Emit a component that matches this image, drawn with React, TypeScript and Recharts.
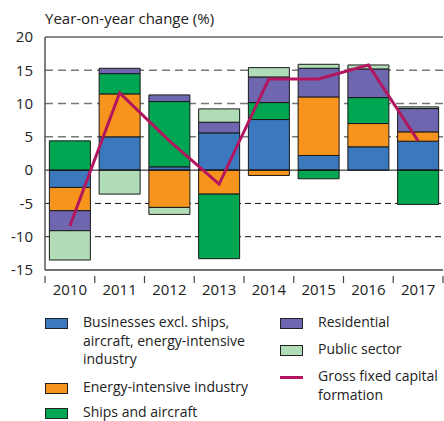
import React from "react";
import {
  ComposedChart,
  Bar,
  Line,
  XAxis,
  YAxis,
  CartesianGrid,
  ReferenceLine,
} from "recharts";

const years = ["2010", "2011", "2012", "2013", "2014", "2015", "2016", "2017"];
const businesses = [-2.6, 5.0, 0.5, 5.6, 7.6, 2.2, 3.5, 4.35];
const energy = [-3.5, 6.45, -5.6, -3.6, -0.8, 8.8, 3.5, 1.4];
const ships = [4.4, 3.05, 9.8, -9.7, 2.55, -1.3, 3.9, -5.15];
const residential = [-3.0, 0.8, 1.0, 1.6, 3.85, 4.3, 4.3, 3.5];
const publicSector = [-4.4, -3.6, -1.05, 2.0, 1.4, 0.6, 0.6, 0.25];
const gfcf = [-8.4, 11.6, 4.4, -2.1, 13.7, 13.7, 15.8, 4.4];
const yTicks = [-15, -10, -5, 0, 5, 10, 15, 20];

const COLORS = {
  businesses: "#3b78be",
  energy: "#f7941e",
  ships: "#00a651",
  residential: "#6e67af",
  publicSector: "#b1dcb8",
  gfcf: "#b3165f",
};

const data = years.map((y, i) => ({
  year: y,
  businesses: businesses[i],
  energy: energy[i],
  ships: ships[i],
  residential: residential[i],
  publicSector: publicSector[i],
  gfcf: gfcf[i],
}));

const FONT = "'Open Sans', sans-serif";

const YearTick = (props: any) => {
  const { x, y, payload, index } = props;
  const half = payload && payload.offset ? payload.offset : 0;
  const last = index === years.length - 1;
  const ay = y - 8;
  return (
    <g>
      <line x1={x - half} x2={x - half} y1={ay} y2={ay + 7} stroke="#444" strokeWidth={1.2} />
      {last && (
        <line x1={x + half} x2={x + half} y1={ay} y2={ay + 7} stroke="#444" strokeWidth={1.2} />
      )}
      <text x={x} y={y} dy={11} textAnchor="middle" fill="#222" fontSize={15} fontFamily={FONT}>
        {payload.value}
      </text>
    </g>
  );
};

const Swatch = ({ color }: { color: string }) => (
  <div
    style={{
      position: "absolute",
      left: 0,
      top: -5,
      width: 21,
      height: 9,
      background: color,
      border: "1px solid #222",
    }}
  />
);

const legendItems = [
  { x: 45, y: 323, text: ["Businesses excl. ships,", "aircraft, energy-intensive", "industry"], color: COLORS.businesses },
  { x: 45, y: 388, text: ["Energy-intensive industry"], color: COLORS.energy },
  { x: 45, y: 413, text: ["Ships and aircraft"], color: COLORS.ships },
  { x: 280, y: 323, text: ["Residential"], color: COLORS.residential },
  { x: 280, y: 350, text: ["Public sector"], color: COLORS.publicSector },
  { x: 280, y: 377, text: ["Gross fixed capital", "formation"], color: COLORS.gfcf, line: true },
];

export default function App() {
  return (
    <div
      style={{
        position: "absolute",
        left: 0,
        top: 0,
        width: 444,
        height: 421,
        background: "#fff",
        fontFamily: FONT,
        color: "#222",
      }}
    >
      <div
        style={{
          position: "absolute",
          left: 45,
          top: 9,
          fontSize: 15,
          lineHeight: "18px",
          whiteSpace: "nowrap",
        }}
      >
        Year-on-year change (%)
      </div>
      <div style={{ position: "absolute", left: 0, top: 0 }}>
        <ComposedChart
          width={444}
          height={300}
          data={data}
          stackOffset="sign"
          margin={{ top: 37, right: 1, bottom: 0, left: 0 }}
          barCategoryGap="8.8%"
        >
          <CartesianGrid
            vertical={false}
            horizontalValues={[5, 10, 15]}
            stroke="#777"
            strokeWidth={1.5}
            strokeDasharray="8 5"
          />
          <CartesianGrid
            vertical={false}
            horizontalValues={[-5, -10]}
            stroke="#111"
            strokeWidth={1}
            strokeDasharray="6 4"
          />
          <XAxis
            dataKey="year"
            height={30}
            tickLine={false}
            axisLine={{ stroke: "#444", strokeWidth: 1.5 }}
            tick={<YearTick />}
            tickMargin={8}
            interval={0}
          />
          <YAxis
            domain={[-15, 20]}
            ticks={yTicks}
            width={45}
            tickLine={false}
            axisLine={{ stroke: "#555", strokeWidth: 1.5 }}
            tick={{ fill: "#222", fontSize: 15, fontFamily: FONT }}
            tickMargin={6}
            interval={0}
            allowDataOverflow
          />
          <YAxis
            yAxisId="right"
            orientation="right"
            domain={[-15, 20]}
            width={0}
            tick={false}
            tickLine={false}
            axisLine={{ stroke: "#555", strokeWidth: 1.5 }}
          />
          <ReferenceLine y={20} stroke="#666" strokeWidth={1.5} />
          <Bar dataKey="businesses" stackId="s" fill={COLORS.businesses} stroke="#1a1a1a" strokeWidth={1} isAnimationActive={false} />
          <Bar dataKey="energy" stackId="s" fill={COLORS.energy} stroke="#1a1a1a" strokeWidth={1} isAnimationActive={false} />
          <Bar dataKey="ships" stackId="s" fill={COLORS.ships} stroke="#1a1a1a" strokeWidth={1} isAnimationActive={false} />
          <Bar dataKey="residential" stackId="s" fill={COLORS.residential} stroke="#1a1a1a" strokeWidth={1} isAnimationActive={false} />
          <Bar dataKey="publicSector" stackId="s" fill={COLORS.publicSector} stroke="#1a1a1a" strokeWidth={1} isAnimationActive={false} />
          <ReferenceLine y={0} stroke="#111" strokeWidth={1} />
          <Line
            dataKey="gfcf"
            stroke={COLORS.gfcf}
            strokeWidth={3}
            dot={false}
            activeDot={false}
            type="linear"
            isAnimationActive={false}
          />
        </ComposedChart>
      </div>
      {legendItems.map((it, k) => (
        <div key={k} style={{ position: "absolute", left: it.x, top: it.y }}>
          {it.line ? (
            <div
              style={{
                position: "absolute",
                left: 0,
                top: -1.5,
                width: 23,
                height: 3,
                background: it.color,
              }}
            />
          ) : (
            <Swatch color={it.color} />
          )}
          <div
            style={{
              position: "absolute",
              left: 38,
              top: -10,
              fontSize: 14,
              lineHeight: "18.5px",
              whiteSpace: "nowrap",
            }}
          >
            {it.text.map((t, j) => (
              <div key={j}>{t}</div>
            ))}
          </div>
        </div>
      ))}
    </div>
  );
}
